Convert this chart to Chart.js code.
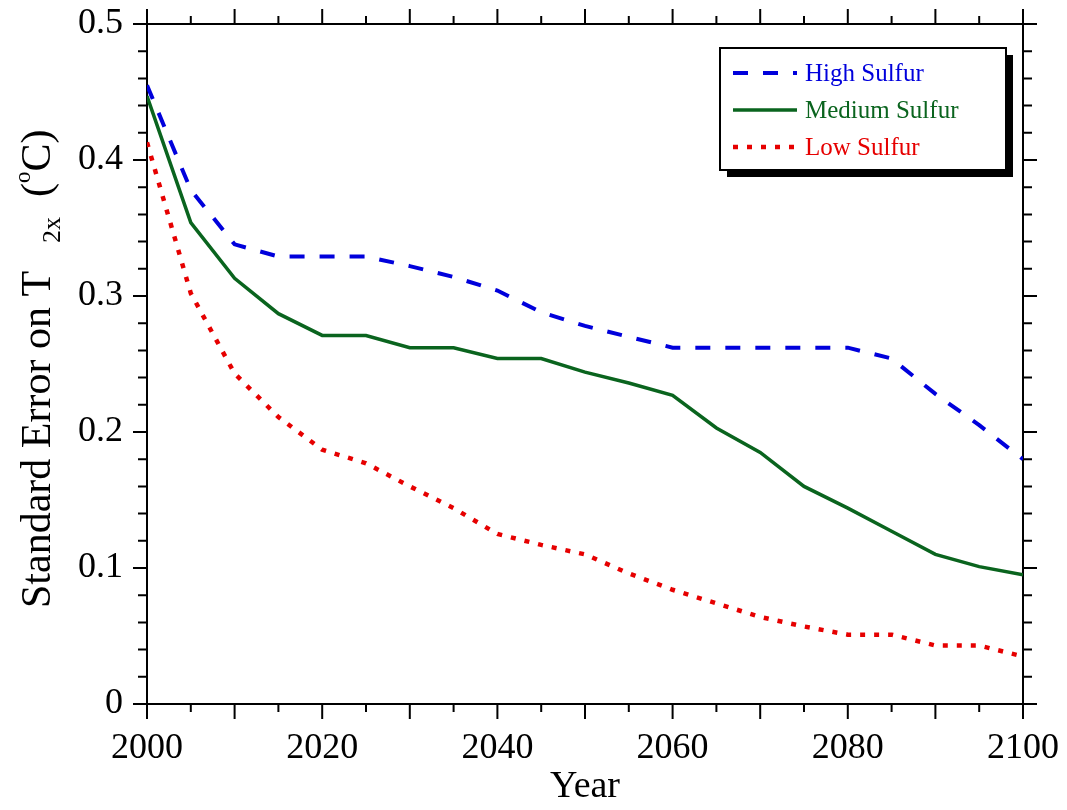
<!DOCTYPE html>
<html>
<head>
<meta charset="utf-8">
<script src="https://cdn.jsdelivr.net/npm/chart.js@4"></script>
<style>
  body { margin: 0; background: #fff; }
  #wrap { width: 1067px; height: 810px; position: relative; }
</style>
</head>
<body>
<div id="wrap"><canvas id="myChart"></canvas></div>
<script>
const years = [2000, 2005, 2010, 2015, 2020, 2025, 2030, 2035, 2040, 2045, 2050,
  2055, 2060, 2065, 2070, 2075, 2080, 2085, 2090, 2095, 2100];

const highSulfur = [0.455, 0.378, 0.338, 0.329, 0.329, 0.329, 0.322, 0.314, 0.304, 0.288, 0.278,
  0.270, 0.262, 0.262, 0.262, 0.262, 0.262, 0.254, 0.228, 0.205, 0.180];
const mediumSulfur = [0.447, 0.354, 0.313, 0.287, 0.271, 0.271, 0.262, 0.262, 0.254, 0.254, 0.244,
  0.236, 0.227, 0.203, 0.185, 0.160, 0.144, 0.127, 0.110, 0.101, 0.095];
const lowSulfur = [0.413, 0.302, 0.243, 0.211, 0.187, 0.177, 0.160, 0.144, 0.125, 0.117, 0.110,
  0.096, 0.084, 0.074, 0.064, 0.057, 0.051, 0.051, 0.043, 0.043, 0.035];

const xTicks = [2000, 2020, 2040, 2060, 2080, 2100];
const yTicks = [0, 0.1, 0.2, 0.3, 0.4, 0.5];

const serif = '"Liberation Serif", "DejaVu Serif", serif';

const toPoints = (vals) => vals.map((v, i) => ({ x: years[i], y: v }));

const mydata = {
  datasets: [{
    label: 'High Sulfur',
    data: toPoints(highSulfur),
    borderColor: 'rgb(0, 0, 220)',
    borderWidth: 4,
    borderDash: [15, 15],
  }, {
    label: 'Medium Sulfur',
    data: toPoints(mediumSulfur),
    borderColor: 'rgb(10, 100, 30)',
    borderWidth: 3.5,
  }, {
    label: 'Low Sulfur',
    data: toPoints(lowSulfur),
    borderColor: 'rgb(230, 0, 0)',
    borderWidth: 4.5,
    borderDash: [5, 9],
  }]
};

// ticks pointing outward on all four sides, long ones on majors
const frameTicks = {
  id: 'frameTicks',
  afterDraw(chart) {
    const { ctx, chartArea: a } = chart;
    const x = chart.scales.x;
    const y = chart.scales.y;
    ctx.save();
    ctx.strokeStyle = '#000';
    ctx.lineWidth = 2;
    ctx.beginPath();
    for (let v = 2000; v <= 2100; v += 5) {
      const px = x.getPixelForValue(v);
      const len = v % 10 === 0 ? 15 : 8;
      ctx.moveTo(px, a.bottom); ctx.lineTo(px, a.bottom + len);
      ctx.moveTo(px, a.top); ctx.lineTo(px, a.top - len);
    }
    for (let k = 0; k <= 25; k++) {
      const py = y.getPixelForValue(k * 0.02);
      const len = k % 5 === 0 ? 14 : 9;
      ctx.moveTo(a.left, py); ctx.lineTo(a.left - len, py);
      ctx.moveTo(a.right, py); ctx.lineTo(a.right + len, py);
    }
    ctx.stroke();
    ctx.restore();
  }
};

// y title with subscript and superscript
const yTitle = {
  id: 'yTitle',
  afterDraw(chart) {
    const { ctx } = chart;
    ctx.save();
    ctx.translate(50, 608);
    ctx.rotate(-Math.PI / 2);
    ctx.fillStyle = '#000';
    ctx.textBaseline = 'alphabetic';
    ctx.textAlign = 'left';
    ctx.font = `42px ${serif}`;
    ctx.fillText('Standard Error on T', 0, 0);
    ctx.font = `26px ${serif}`;
    ctx.fillText('2x', 365, 10);
    ctx.font = `42px ${serif}`;
    ctx.fillText('(', 411, 0);
    const w1 = ctx.measureText('(').width;
    ctx.font = `23px ${serif}`;
    ctx.fillText('o', 411 + w1, -20);
    const w2 = ctx.measureText('o').width;
    ctx.font = `42px ${serif}`;
    ctx.fillText('C)', 411 + w1 + w2, 0);
    ctx.restore();
  }
};

// boxed legend with a drop shadow, inside the plot
const boxLegend = {
  id: 'boxLegend',
  afterDraw(chart) {
    const { ctx } = chart;
    const bx = 720, by = 48, bw = 286, bh = 122;
    ctx.save();
    ctx.fillStyle = '#000';
    ctx.fillRect(bx + 7, by + 7, bw, bh);
    ctx.fillStyle = '#fff';
    ctx.fillRect(bx, by, bw, bh);
    ctx.strokeStyle = '#000';
    ctx.lineWidth = 2;
    ctx.strokeRect(bx, by, bw, bh);
    const rows = [73, 110, 147];
    chart.data.datasets.forEach((ds, i) => {
      ctx.beginPath();
      ctx.strokeStyle = ds.borderColor;
      ctx.lineWidth = ds.borderWidth;
      ctx.setLineDash(ds.borderDash || []);
      ctx.moveTo(733, rows[i]);
      ctx.lineTo(797, rows[i]);
      ctx.stroke();
      ctx.setLineDash([]);
      ctx.fillStyle = ds.borderColor;
      ctx.font = `25px ${serif}`;
      ctx.textBaseline = 'middle';
      ctx.fillText(ds.label, 805, rows[i] + 1);
    });
    ctx.restore();
  }
};

const tickFont = { family: serif, size: 36 };

// fixed box sizes so the plot sits where the original one does
const fixBox = (w, h) => (s) => {
  if (w !== null) s.width = w;
  if (h !== null) s.height = h;
  s.paddingTop = 0;
  s.paddingBottom = 0;
  s.paddingLeft = 0;
  s.paddingRight = 0;
};

const config = {
  type: 'line',
  data: mydata,
  options: {
    responsive: true,
    maintainAspectRatio: false,
    animation: false,
    layout: { padding: 0 },
    elements: {
      point: { radius: 0 },
      line: { tension: 0, borderCapStyle: 'butt', fill: false }
    },
    plugins: {
      legend: { display: false },
      tooltip: { enabled: false }
    },
    scales: {
      x: {
        type: 'linear',
        position: 'bottom',
        min: 2000,
        max: 2100,
        afterBuildTicks: (s) => { s.ticks = xTicks.map((v) => ({ value: v })); },
        afterFit: fixBox(null, 106),
        grid: { display: false, drawTicks: false },
        border: { display: true, color: '#000', width: 2 },
        ticks: { color: '#000', font: tickFont, padding: 23, maxRotation: 0, callback: (v) => String(v) },
        title: { display: true, text: 'Year', color: '#000', font: { family: serif, size: 38 }, padding: 0 }
      },
      x2: {
        type: 'linear',
        position: 'top',
        min: 2000,
        max: 2100,
        afterFit: fixBox(null, 24),
        grid: { display: false, drawTicks: false },
        border: { display: true, color: '#000', width: 2 },
        ticks: { display: false }
      },
      y: {
        type: 'linear',
        position: 'left',
        min: 0,
        max: 0.5,
        afterBuildTicks: (s) => { s.ticks = yTicks.map((v) => ({ value: v })); },
        afterFit: fixBox(147, null),
        grid: { display: false, drawTicks: false },
        border: { display: true, color: '#000', width: 2 },
        ticks: { color: '#000', font: tickFont, padding: 24, callback: (v) => String(v) }
      },
      y2: {
        type: 'linear',
        position: 'right',
        min: 0,
        max: 0.5,
        afterFit: fixBox(44, null),
        grid: { display: false, drawTicks: false },
        border: { display: true, color: '#000', width: 2 },
        ticks: { display: false }
      }
    }
  },
  plugins: [frameTicks, yTitle, boxLegend]
};

window.onload = () => {
  new Chart(document.getElementById('myChart'), config);
};
</script>
</body>
</html>
